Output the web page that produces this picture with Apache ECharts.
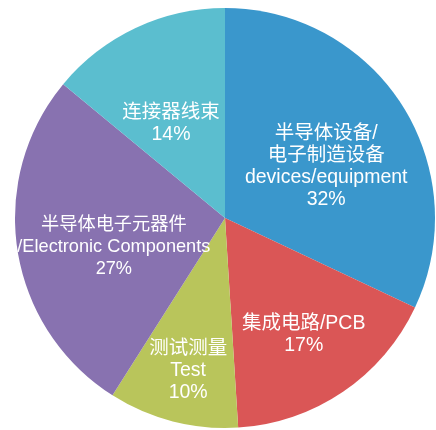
<!DOCTYPE html>
<html><head><meta charset="utf-8">
<script src="https://cdn.jsdelivr.net/npm/echarts@6/dist/echarts.min.js"></script>
<style>html,body{margin:0;padding:0;background:#fff}#c{width:436px;height:430px}</style>
</head><body><div id="c"></div>
<script>
const categories = ['半导体设备/\n电子制造设备\ndevices/equipment', '集成电路/PCB', '测试测量\nTest', '半导体电子元器件\n/Electronic Components', '连接器线束'];
const values = [32, 17, 10, 27, 14];
const colors = ['#3a97cc', '#da5656', '#b9c55b', '#8872b0', '#5bbecf'];
// label layout tweaks (pixels)
const labelOffsets = [[10, 6], [18, 27], [-10, 48], [-4.5, 12.5], [-8, 3]];
const labelSizes = [19.5, 19.5, 19.5, 18.2, 19.5];

const chart = echarts.init(document.getElementById('c'), null, {renderer: 'canvas'});
chart.setOption({
  animation: false,
  series: [{
    type: 'pie',
    center: [225, 218],
    radius: [0, 210],
    startAngle: 90,
    clockwise: true,
    avoidLabelOverlap: false,
    labelLayout: {hideOverlap: false},
    data: categories.map((n, i) => ({
      name: n, value: values[i],
      itemStyle: {color: colors[i]},
      label: {offset: labelOffsets[i], fontSize: labelSizes[i]}
    })),
    label: {
      show: true,
      position: 'inside',
      formatter: p => p.name + '\n' + p.value + '%',
      color: '#fff',
      fontSize: 19.5,
      lineHeight: 22,
      fontFamily: 'Liberation Sans, Noto Sans CJK SC, sans-serif'
    },
    labelLine: {show: false},
    itemStyle: {borderWidth: 0}
  }]
});
</script></body></html>
